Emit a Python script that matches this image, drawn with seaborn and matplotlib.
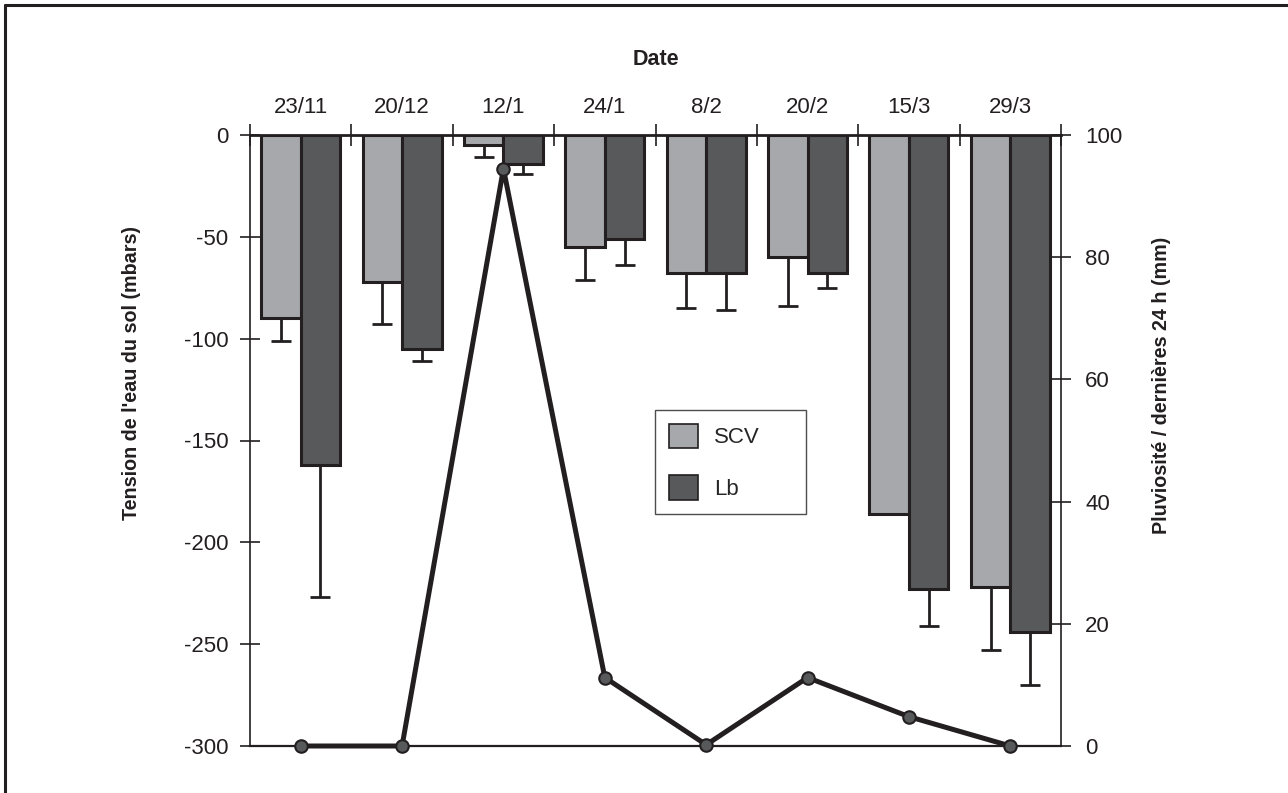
import numpy as np
import pandas as pd
import matplotlib
matplotlib.use("Agg")
import matplotlib.pyplot as plt
from matplotlib.lines import Line2D
import seaborn as sns

# Dates of the measurement campaigns
dates = ["23/11", "20/12", "12/1", "24/1", "8/2", "20/2", "15/3", "29/3"]

# Soil water tension (mbar) under the two systems
scv_tension = [-90, -72, -5, -55, -68, -60, -186, -222]
lb_tension = [-162, -105, -14, -51, -68, -68, -223, -244]

# Standard deviations (drawn downward only)
scv_err = [11, 21, 6, 16, 17, 24, 0, 31]
lb_err = [65, 6, 5, 13, 18, 7, 18, 26]

# Rainfall over the previous 24 h (mm)
rainfall = [0, 0, 94.5, 11.2, 0.2, 11.2, 4.8, 0]

series = ["SCV", "Lb"]
colors = {"SCV": "#A7A8AB", "Lb": "#58595B"}
ink = "#231F20"

sns.set_theme(style="white")
plt.rcParams["font.family"] = ["Liberation Sans", "DejaVu Sans"]
plt.rcParams["axes.unicode_minus"] = False

df = pd.DataFrame({
    "date": dates * 2,
    "tension": scv_tension + lb_tension,
    "serie": ["SCV"] * len(dates) + ["Lb"] * len(dates),
})

fig = plt.figure(figsize=(12.88, 7.93), dpi=100)
ax = fig.add_axes([250 / 1288, 1 - 746 / 793, (1061 - 250) / 1288, (746 - 135) / 793])

sns.barplot(data=df, x="date", y="tension", hue="serie", hue_order=series,
            order=dates, palette=colors, width=0.78, errorbar=None,
            edgecolor=ink, linewidth=2.2, saturation=1, ax=ax)

# Downward error bars under each bar
for cont, errs in zip(ax.containers, [scv_err, lb_err]):
    for bar, e in zip(cont, errs):
        if e <= 0:
            continue
        xc = bar.get_x() + bar.get_width() / 2
        yb = bar.get_y() + bar.get_height()
        ax.errorbar([xc], [yb], yerr=[[e], [0]], fmt="none", ecolor=ink,
                    elinewidth=2.0, capsize=7, capthick=2.0, zorder=3)

ax.set_xlim(-0.5, len(dates) - 0.5)
ax.set_ylim(-300, 0)
ax.set_yticks(np.arange(-300, 1, 50))
ax.set_yticklabels([str(v) for v in range(-300, 1, 50)])

# Category boundaries as crossing ticks on the top line, date labels centred
ax.xaxis.tick_top()
ax.xaxis.set_label_position("top")
ax.set_xticks(np.arange(-0.5, len(dates), 1.0))
ax.set_xticklabels([])
ax.set_xticks(np.arange(len(dates)), minor=True)
ax.set_xticklabels(dates, minor=True)
ax.tick_params(axis="x", which="major", direction="inout", length=16,
               width=1.2, color=ink, top=True, bottom=False)
ax.tick_params(axis="x", which="minor", length=0, pad=12, labelsize=16,
               labelcolor=ink, top=True, bottom=False)
ax.tick_params(axis="y", direction="inout", length=15, width=1.2,
               color=ink, labelsize=16, labelcolor=ink, pad=8, left=True)

ax.set_xlabel("Date", fontsize=15.5, fontweight="bold", color=ink, labelpad=23.5)
ax.set_ylabel("Tension de l'eau du sol (mbars)", fontsize=14.2,
              fontweight="bold", color=ink, labelpad=31, y=0.61)

for side in ["left", "top", "bottom"]:
    ax.spines[side].set_visible(True)
    ax.spines[side].set_color(ink)
ax.spines["left"].set_linewidth(1.2)
ax.spines["top"].set_linewidth(2.0)
ax.spines["bottom"].set_linewidth(1.6)
ax.spines["right"].set_visible(False)

leg = ax.legend(title=None, loc="upper left",
                bbox_to_anchor=(0.4994, 0.55, 0.1862, 0.0), mode="expand",
                fontsize=16, frameon=True, fancybox=False, edgecolor=ink,
                handlelength=1.3, handleheight=1.3, labelspacing=1.22,
                handletextpad=0.75, borderpad=0.62, borderaxespad=0)
leg.get_frame().set_linewidth(1.0)
for h in leg.legend_handles:
    h.set_edgecolor(ink)
    h.set_linewidth(1.2)

# Rainfall on the secondary axis
ax2 = ax.twinx()
sns.lineplot(x=np.arange(len(dates)), y=rainfall, ax=ax2, color=ink,
             linewidth=3.6, marker="o", markersize=9,
             markerfacecolor="#58595B", markeredgecolor=ink,
             markeredgewidth=1.5, clip_on=False, zorder=5)
ax2.set_ylim(0, 100)
ax2.set_yticks(np.arange(0, 101, 20))
ax2.tick_params(axis="y", direction="inout", length=15, width=1.2,
                color=ink, labelsize=16, labelcolor=ink, pad=10, right=True)
ax2.set_ylabel("Pluviosité / dernières 24 h (mm)", fontsize=14.2,
               fontweight="bold", color=ink, labelpad=21, y=0.59)
for side in ["left", "top", "bottom"]:
    ax2.spines[side].set_visible(False)
ax2.spines["right"].set_visible(True)
ax2.spines["right"].set_color(ink)
ax2.spines["right"].set_linewidth(1.2)

# Outer frame lines (left and top)
fig.add_artist(Line2D([5 / 1288, 5 / 1288], [0, 1 - 5 / 793],
                      transform=fig.transFigure, color=ink, linewidth=2.2))
fig.add_artist(Line2D([5 / 1288, 1], [1 - 5 / 793, 1 - 5 / 793],
                      transform=fig.transFigure, color=ink, linewidth=2.2))

fig.savefig("out.png", dpi=100)
